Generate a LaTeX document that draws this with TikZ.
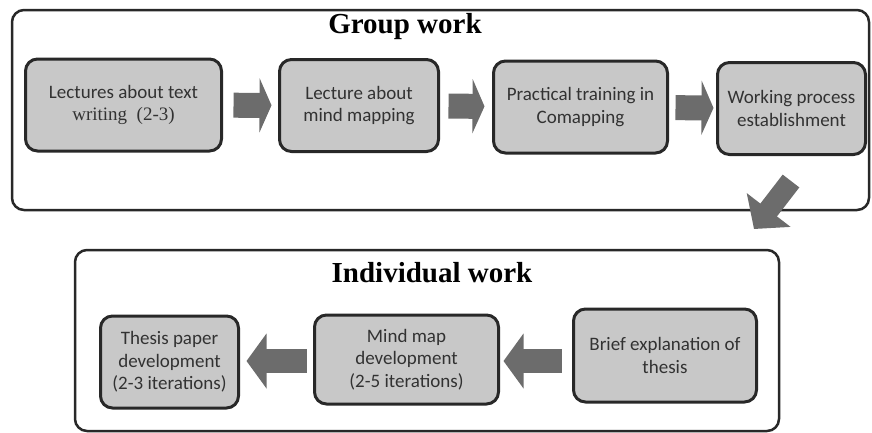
\documentclass[tikz,border=0pt]{standalone}
\usepackage{fontspec}
\setmainfont{Carlito}
\newfontfamily\serifface{Liberation Serif}
\usetikzlibrary{arrows.meta}

\definecolor{boxfill}{RGB}{200,200,200}
\definecolor{boxline}{RGB}{40,40,40}
\definecolor{arrowfill}{RGB}{108,108,108}
\definecolor{textgray}{RGB}{50,50,50}

\begin{document}
\begin{tikzpicture}[x=1pt, y=-1pt,
    frame/.style={draw=boxline, line width=2.5pt, rounded corners=12pt},
    stage/.style={draw=boxline, fill=boxfill, line width=3pt, rounded corners=12pt,
        align=center, text=textgray, inner sep=0pt, outer sep=0pt,
        font=\fontsize{19}{22.5}\selectfont},
    title/.style={font=\serifface\bfseries\fontsize{29}{31}\selectfont},
    blockarrow/.style={draw=arrowfill, line width=25pt,
        -{Triangle[length=#1, width=54pt]}},
    blockarrow/.default=12pt]

% General parameters
\def\rowHeight{92pt}      % Height of the boxes
\def\gap{10pt}            % Space between box and arrow

% Frame
\useasboundingbox (0,0) rectangle (872,432);

% Group work frame
\draw[frame] (12,10) rectangle (869,210);
\node[title] (groupTitle) at (405,27) {Group work};

% Top row of boxes
\node[stage, minimum width=196pt, minimum height=\rowHeight] (lectures) at (123.5,105)
    {Lectures about text\\{\serifface writing\ \ (2-3)}};
\node[stage, minimum width=159pt, minimum height=\rowHeight] (mindmapping) at (359,105.5)
    {Lecture about\\mind mapping};
\node[stage, minimum width=174pt, minimum height=\rowHeight] (training) at (580.5,107)
    {Practical training in\\Comapping};
\node[stage, minimum width=148pt, minimum height=\rowHeight] (process) at (791.5,108.5)
    {Working process\\establishment};

% Arrows between the top boxes
\draw[blockarrow, shorten <=12pt, shorten >=8pt] (lectures) -- (mindmapping);
\draw[blockarrow, shorten <=10pt, shorten >=9pt] (mindmapping) -- (training);
\draw[blockarrow, shorten <=8pt, shorten >=4pt] (training) -- (process);

% Arrow going down to the individual work
\coordinate (downStart) at (791,181);
\coordinate (downEnd) at (754,229);
\draw[blockarrow=24pt, line width=21pt] (downStart) -- (downEnd);

% Individual work frame
\draw[frame] (75,250) rectangle (779,431);
\node[title] (individualTitle) at (432,273) {Individual work};

% Bottom row of boxes
\node[stage, minimum width=138pt, minimum height=\rowHeight] (thesis) at (169.5,362)
    {Thesis paper\\development\\(2-3 iterations)};
\node[stage, minimum width=184pt, minimum height=89pt] (mindmap) at (406.5,359.5)
    {Mind map\\development\\(2-5 iterations)};
\node[stage, minimum width=183pt, minimum height=93pt] (explanation) at (665,355.5)
    {Brief explanation of\\thesis};

% Arrows between the bottom boxes
\draw[blockarrow=20pt, line width=24pt, shorten <=8pt, shorten >=8pt] (mindmap.west |- 0,361) -- (thesis.east |- 0,361);
\draw[blockarrow=20pt, line width=24pt, shorten <=12pt, shorten >=5pt] (explanation.west |- 0,361) -- (mindmap.east |- 0,361);

\end{tikzpicture}
\end{document}
